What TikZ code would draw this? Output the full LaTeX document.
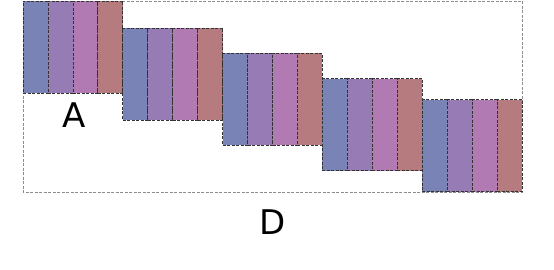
\documentclass[tikz,border=0pt]{standalone}
\usepackage{fontspec}
\usepackage{tikz}
\usetikzlibrary{positioning}
\newfontfamily\labelfont{DejaVu Sans}
\definecolor{slate}{RGB}{122,131,181}
\definecolor{lilac}{RGB}{151,123,180}
\definecolor{orchid}{RGB}{177,122,179}
\definecolor{rosewood}{RGB}{181,123,127}
\tikzset{
  strip/.style={draw=black!80,line width=0.8pt,dash pattern=on 3pt off 1.5pt,
    minimum width=24.95pt,minimum height=92pt,inner sep=0pt,outer sep=0pt,anchor=north west},
  tag/.style={font=\labelfont\fontsize{34}{40}\selectfont,inner sep=0pt}
}

\begin{document}
\begin{tikzpicture}[x=1pt,y=-1pt]
    \useasboundingbox (0,0) rectangle (554,270);
    \draw[black!45,line width=0.8pt,dash pattern=on 3pt off 1.5pt] (23,1) rectangle (522,192);
    \foreach \top [count=\i from 0] in {1,28,53.3,78.5,99.5}
    {
      \foreach \c [count=\j from 0] in {slate,lilac,orchid,rosewood}
      {
        \pgfmathsetmacro{\x}{23+\i*99.8+\j*24.95}
        \node[strip,fill=\c] (b\i s\j) at (\x,\top) {};
      }
    }
    \node[tag] (labA) at (74,115) {A};
    \node[tag] (labD) at (272.5,222.5) {D};
  \end{tikzpicture}
\end{document}
